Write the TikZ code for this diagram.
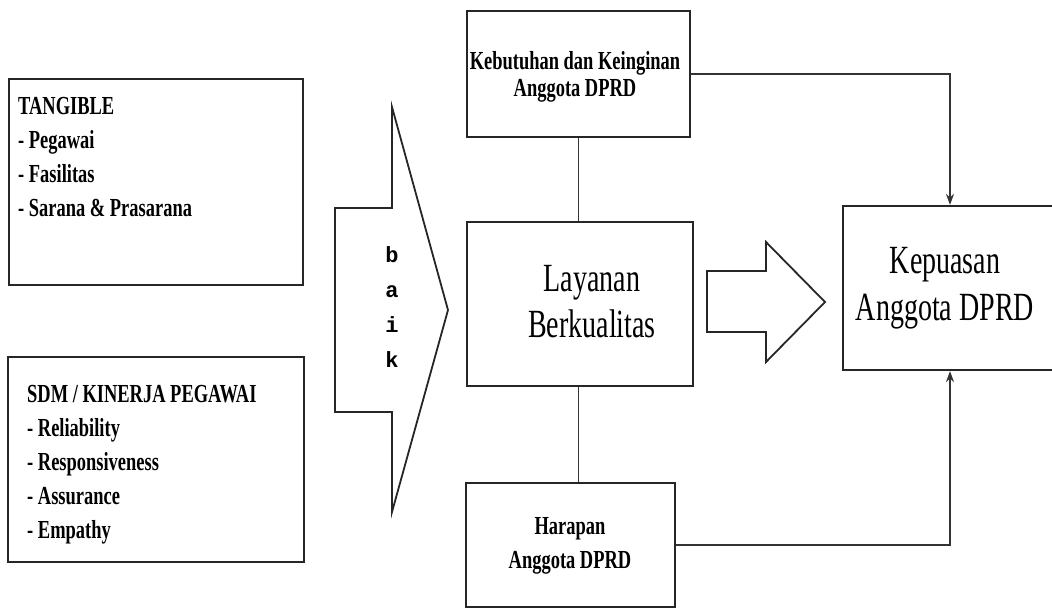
\documentclass[tikz,border=0pt]{standalone}
\usepackage{fontspec}
\setmainfont{Liberation Serif}
\newfontfamily\condfont[FakeStretch=0.71]{Liberation Serif}
\newfontfamily\bigfont[FakeStretch=0.70]{Liberation Serif}
\newfontfamily\monofnt{Liberation Mono}
\usetikzlibrary{arrows.meta}
\tikzset{
  box/.style={draw=black!85, line width=2.2pt, inner sep=0pt, fill=white},
  conn/.style={draw=black!80, line width=1.9pt},
  arr/.style={conn, -{Stealth[length=11pt,width=8pt]}},
  fatarrow/.style={draw=black!85, line width=1.8pt, fill=white, line join=miter},
  listtxt/.style={anchor=north west, align=left, inner sep=0pt,
    font={\condfont\bfseries\fontsize{26pt}{34pt}\selectfont}},
  smalltxt/.style={align=center, inner sep=0pt, font={\condfont\bfseries\fontsize{26pt}{27pt}\selectfont}},
  bigtxt/.style={align=center, inner sep=0pt, font={\bigfont\fontsize{40pt}{46pt}\selectfont}}
}
\begin{document}
\begin{tikzpicture}[x=1pt,y=-1pt]
\useasboundingbox (0,0) rectangle (1052,610);
\clip (0,0) rectangle (1052,610);

% left boxes
\node[box, minimum width=294pt, minimum height=206pt] (tang) at (156,182) {};
\node[listtxt] (tangtxt) at (18,97) {TANGIBLE\\- Pegawai\\- Fasilitas\\- Sarana \& Prasarana};
\node[box, minimum width=296pt, minimum height=205pt] (sdm) at (156,459.5) {};
\node[listtxt] (sdmtxt) at (27,385) {SDM / KINERJA PEGAWAI\\- Reliability\\- Responsiveness\\- Assurance\\- Empathy};

% big arrow
\draw[fatarrow] (335,208) -- (392,208) -- (392,107) -- (448,310) -- (392,512) -- (392,412) -- (335,412) -- cycle;
\node[align=center, inner sep=0pt, font={\monofnt\bfseries\fontsize{22pt}{35pt}\selectfont}] (baik) at (392,307) {b\\a\\i\\k};

% middle column
\node[box, minimum width=223pt, minimum height=126pt] (keb) at (578.5,74) {};
\node[smalltxt] (kebtxt) at (575,77) {Kebutuhan dan Keinginan\\Anggota DPRD};
\node[box, minimum width=226pt, minimum height=164pt] (lay) at (580,304) {};
\node[bigtxt] (laytxt) at (592,302) {Layanan\\Berkualitas};
\node[box, minimum width=209pt, minimum height=124pt] (har) at (570.5,545) {};
\node[smalltxt, font={\condfont\bfseries\fontsize{26pt}{34pt}\selectfont}] (hartxt) at (570,546) {Harapan\\Anggota DPRD};

% small arrow
\draw[fatarrow] (707,271) -- (766,271) -- (766,242) -- (825,302) -- (766,362) -- (766,332) -- (707,332) -- cycle;

% right box
\node[box, minimum width=214pt, minimum height=164pt] (kep) at (950,288) {};
\node[bigtxt, font={\bigfont\fontsize{40pt}{47pt}\selectfont}] (keptxt) at (945,288) {Kepuasan\\Anggota DPRD};

% connectors
\draw[conn] (keb.south) -- (keb.south |- lay.north);
\draw[conn] (lay.south -| keb.south) -- (keb.south |- har.north);
\draw[arr] (keb.east) -| (kep.north);
\draw[arr] (har.east) -| (kep.south);
\end{tikzpicture}
\end{document}
